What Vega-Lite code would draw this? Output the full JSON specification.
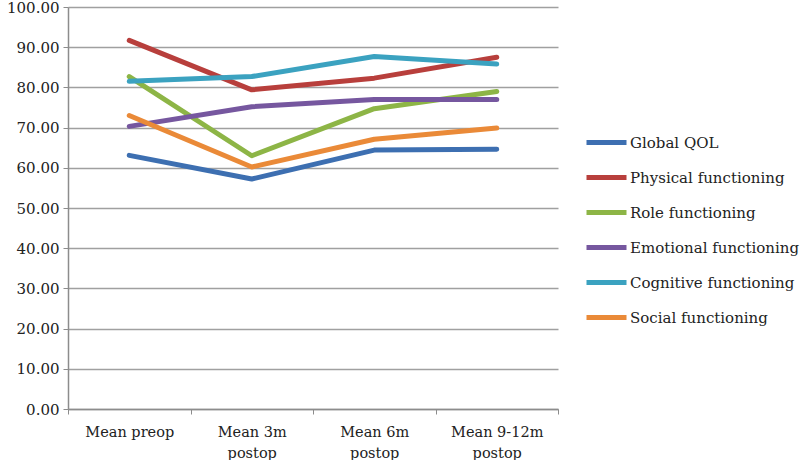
{
  "$schema": "https://vega.github.io/schema/vega-lite/v6.json",
  "width": 490,
  "height": 402,
  "padding": {"left": 6, "top": 0, "right": 5, "bottom": 0},
  "background": "white",
  "config": {"font": "DejaVu Serif", "view": {"stroke": null}},
  "data": {
    "values": [
      {"t": "Mean preop", "s": "Global QOL", "v": 63.1},
      {"t": "Mean 3m postop", "s": "Global QOL", "v": 57.2},
      {"t": "Mean 6m postop", "s": "Global QOL", "v": 64.4},
      {"t": "Mean 9-12m postop", "s": "Global QOL", "v": 64.6},
      {"t": "Mean preop", "s": "Physical functioning", "v": 91.7},
      {"t": "Mean 3m postop", "s": "Physical functioning", "v": 79.4},
      {"t": "Mean 6m postop", "s": "Physical functioning", "v": 82.3},
      {"t": "Mean 9-12m postop", "s": "Physical functioning", "v": 87.5},
      {"t": "Mean preop", "s": "Role functioning", "v": 82.7},
      {"t": "Mean 3m postop", "s": "Role functioning", "v": 63.0},
      {"t": "Mean 6m postop", "s": "Role functioning", "v": 74.7},
      {"t": "Mean 9-12m postop", "s": "Role functioning", "v": 79.0},
      {"t": "Mean preop", "s": "Emotional functioning", "v": 70.3},
      {"t": "Mean 3m postop", "s": "Emotional functioning", "v": 75.2},
      {"t": "Mean 6m postop", "s": "Emotional functioning", "v": 77.0},
      {"t": "Mean 9-12m postop", "s": "Emotional functioning", "v": 77.0},
      {"t": "Mean preop", "s": "Cognitive functioning", "v": 81.5},
      {"t": "Mean 3m postop", "s": "Cognitive functioning", "v": 82.7},
      {"t": "Mean 6m postop", "s": "Cognitive functioning", "v": 87.7},
      {"t": "Mean 9-12m postop", "s": "Cognitive functioning", "v": 85.8},
      {"t": "Mean preop", "s": "Social functioning", "v": 73.0},
      {"t": "Mean 3m postop", "s": "Social functioning", "v": 60.2},
      {"t": "Mean 6m postop", "s": "Social functioning", "v": 67.1},
      {"t": "Mean 9-12m postop", "s": "Social functioning", "v": 69.9}
    ]
  },
  "mark": {"type": "line", "strokeWidth": 5, "strokeCap": "round", "strokeJoin": "round"},
  "encoding": {
    "x": {
      "field": "t",
      "type": "nominal",
      "sort": ["Mean preop", "Mean 3m postop", "Mean 6m postop", "Mean 9-12m postop"],
      "bandPosition": 0.5,
      "scale": {"type": "band", "paddingInner": 0, "paddingOuter": 0},
      "axis": {
        "title": null,
        "labelAngle": 0,
        "labelFontSize": 14.5,
        "labelColor": "#222",
        "labelLineHeight": 21,
        "labelPadding": 11,
        "labelBaseline": "top",
        "tickBand": "extent",
        "tickSize": 5,
        "tickColor": "#8c8c8c",
        "domainColor": "#8c8c8c",
        "domainWidth": 1.5,
        "labelExpr": "isValid(datum.value) ? split(replace(datum.value, ' postop', '|postop'), '|') : ''"
      }
    },
    "y": {
      "field": "v",
      "type": "quantitative",
      "scale": {"domain": [0, 100], "nice": false},
      "axis": {
        "title": null,
        "values": [0, 10, 20, 30, 40, 50, 60, 70, 80, 90, 100],
        "format": ".2f",
        "labelFontSize": 15,
        "labelColor": "#222",
        "labelPadding": 4,
        "tickSize": 5,
        "tickColor": "#8c8c8c",
        "domainColor": "#8c8c8c",
        "domainWidth": 1.5,
        "gridColor": "#a0a0a0",
        "gridWidth": 1.3
      }
    },
    "color": {
      "field": "s",
      "type": "nominal",
      "scale": {
        "domain": ["Global QOL", "Physical functioning", "Role functioning", "Emotional functioning", "Cognitive functioning", "Social functioning"],
        "range": ["#3d6fb1", "#b83f3c", "#8db546", "#76579f", "#3ba2c0", "#ea8a38"]
      },
      "legend": {
        "title": null,
        "orient": "none",
        "legendX": 516,
        "legendY": 113,
        "symbolType": "stroke",
        "symbolStrokeWidth": 5,
        "symbolSize": 1600,
        "labelFontSize": 15,
        "labelColor": "#222",
        "labelOffset": 1,
        "labelLimit": 0,
        "rowPadding": 2
      }
    }
  }
}
